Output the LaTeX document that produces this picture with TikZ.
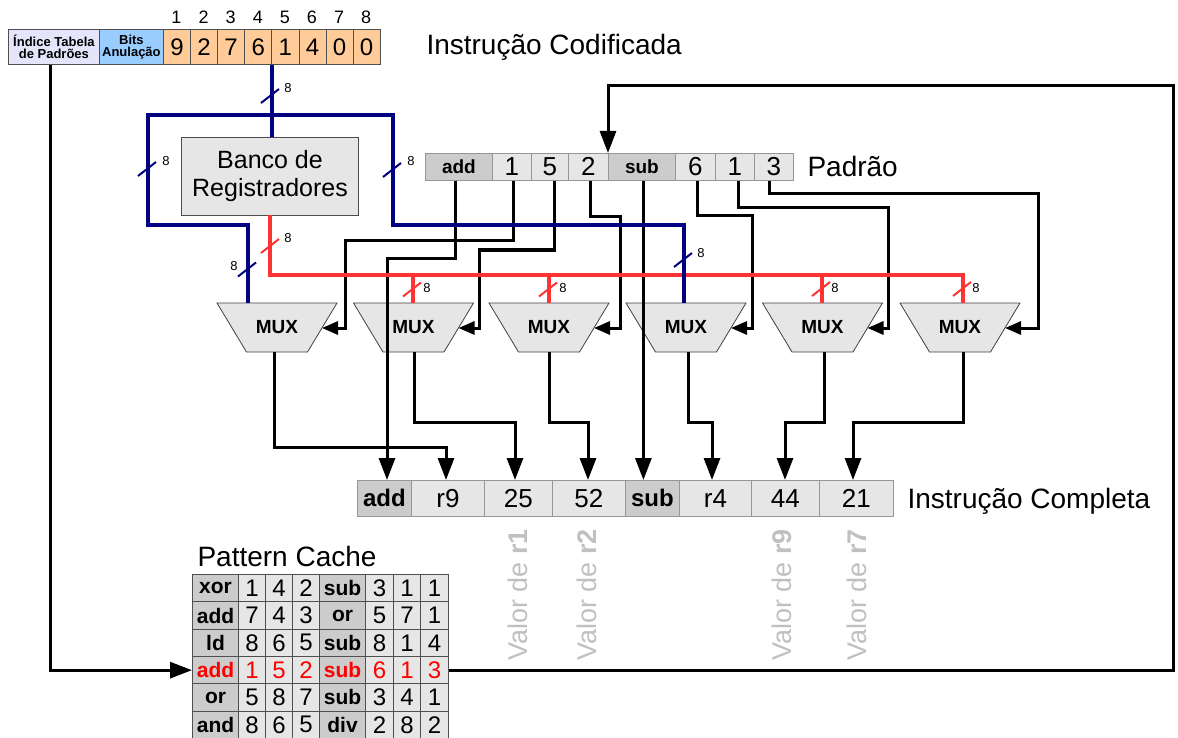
\documentclass[tikz,border=0pt]{standalone}
\usepackage{fontspec}
\setmainfont{Liberation Sans}
\usetikzlibrary{arrows.meta,calc}
\definecolor{navy}{RGB}{0,0,128}
\definecolor{busred}{RGB}{255,51,51}
\definecolor{cellL}{RGB}{230,230,230}
\definecolor{cellD}{RGB}{204,204,204}
\definecolor{cellB}{RGB}{150,150,150}
\definecolor{tabB}{RGB}{80,80,80}
\definecolor{lav}{RGB}{228,228,250}
\definecolor{bitsb}{RGB}{153,204,255}
\definecolor{orng}{RGB}{255,204,153}
\definecolor{valg}{RGB}{192,192,192}
\newcommand{\fsz}[1]{\fontsize{#1}{#1}\selectfont}
\newcommand{\bwmark}[5]{\draw[line width=2pt,#1] (#2-9,#3+7) -- (#2+9,#3-7); \node[font=\fsz{13}] (#4) at (#5) {8};}
\begin{document}
\begin{tikzpicture}[x=1pt,y=-1pt,
  hcell/.style={draw=tabB, line width=0.8pt, inner sep=0pt, anchor=north west, minimum height=35pt},
  cell/.style={draw=cellB, line width=0.8pt, inner sep=0pt, anchor=north west},
  tcell/.style={draw=tabB, line width=1pt, inner sep=0pt, anchor=north west},
  muxshape/.style={draw=black!75, fill=cellL, line width=0.8pt},
  wire/.style={line width=3pt, black},
  sidearr/.style={wire, -{Triangle[length=16pt,width=13pt]}},
  downarr/.style={wire, -{Triangle[length=22pt,width=16pt]}},
  bluebus/.style={line width=4.5pt, navy},
  redbus/.style={line width=4.5pt, busred},
  biglab/.style={anchor=base west, font=\fsz{28}},
  valor/.style={rotate=90, font=\fsz{27}, text=valg}
]
\useasboundingbox (0,0) rectangle (1178,738);

% ---------- header (Instrucao Codificada)
\node[hcell, fill=lav, minimum width=91pt, align=center, font=\fsz{13}\bfseries] (hidx) at (8,29) {Índice Tabela\\[-1pt]de Padrões};
\node[hcell, fill=bitsb, minimum width=64pt, align=center, font=\fsz{13}\bfseries] (hbits) at (99,29) {Bits\\[-1pt]Anulação};
\foreach \d [count=\i] in {9,2,7,6,1,4,0,0} {
  \node[hcell, fill=orng, minimum width=27.1pt, font=\fsz{24}] (h\i) at ({163+27.1*(\i-1)},29) {\d};
  \node[font=\fsz{18}] (hn\i) at ({176.5+27.1*(\i-1)},17) {\i};
}
\node[biglab] (tcod) at (423,55) {Instrução Codificada};

% ---------- register bank
\node[draw=black!70, fill=cellL, line width=0.8pt, minimum width=177pt, minimum height=78pt, align=center, font=\fontsize{25}{28}\selectfont] (bank) at (270,176) {Banco de\\Registradores};

% ---------- Padrao row
\foreach \t/\x/\w/\f/\s [count=\i] in {add/425/67/cellD/b,1/492/39/cellL/n,5/531/37/cellL/n,2/568/40/cellL/n,sub/608/67/cellD/b,6/675/40/cellL/n,1/715/39/cellL/n,3/754/39/cellL/n} {
  \if\s b\def\ff{\bfseries\fsz{19}}\else\def\ff{\fsz{26}}\fi
  \node[cell, fill=\f, minimum width=\w pt, minimum height=27pt, font=\ff] (p\i) at (\x,153) {\t};
}
\node[biglab] (tpad) at (804,177) {Padrão};

% ---------- Instrucao Completa row
\foreach \t/\x/\w/\f/\s [count=\i] in {add/357/54/cellD/b,r9/411/73/cellL/n,25/484/68/cellL/n,52/552/73/cellL/n,sub/625/54/cellD/b,r4/679/72/cellL/n,44/751/68/cellL/n,21/819/74/cellL/n} {
  \if\s b\def\ff{\bfseries\fsz{24}}\else\def\ff{\fsz{26}}\fi
  \node[cell, fill=\f, minimum width=\w pt, minimum height=36pt, font=\ff] (b\i) at (\x,480) {\t};
}
\node[biglab] (tcomp) at (904,508) {Instrução Completa};

% ---------- Valor labels
\node[valor] (v1) at (518,595) {Valor de \textbf{r1}};
\node[valor] (v2) at (587,595) {Valor de \textbf{r2}};
\node[valor] (v3) at (782,595) {Valor de \textbf{r9}};
\node[valor] (v4) at (857,595) {Valor de \textbf{r7}};

% ---------- Pattern cache
\node[biglab] (tpc) at (194,566) {Pattern Cache};
\foreach \row [count=\r] in {{xor,1,4,2,sub,3,1,1},{add,7,4,3,or,5,7,1},{ld,8,6,5,sub,8,1,4},{add,1,5,2,sub,6,1,3},{or,5,8,7,sub,3,4,1},{and,8,6,5,div,2,8,2}} {
  \foreach \v [count=\c] in \row {
    \pgfmathsetmacro{\cx}{{192,238,265,292,319,365,393,420}[\c-1]}
    \pgfmathsetmacro{\cw}{{46,27,27,27,46,28,27,28}[\c-1]}
    \pgfmathsetmacro{\ry}{574+27.33*(\r-1)}
    \ifnum\c=1 \def\cf{cellD}\def\cfont{\bfseries\fsz{21}}\else
      \ifnum\c=5 \def\cf{cellD}\def\cfont{\bfseries\fsz{21}}\else
        \def\cf{cellL}\def\cfont{\fsz{24}}\fi\fi
    \ifnum\r=4 \def\ccol{red}\else\def\ccol{black}\fi
    \node[tcell, fill=\cf, text=\ccol, font=\cfont, minimum width=\cw pt, minimum height=27.33pt] (pc\r-\c) at (\cx,\ry) {\v};
  }
}

% ---------- MUXes
\foreach \i/\x in {1/277,2/413.5,3/549,4/686,5/822.5,6/960} {
  \path[muxshape] (\x-60,303) -- (\x+60,303) -- (\x+30.5,352) -- (\x-30.5,352) -- cycle;
  \node[font=\bfseries\fsz{19}] (mux\i) at (\x,327.5) {MUX};
  \coordinate (mr\i) at (\x+45,328);
}
\coordinate (mt1) at (248,303);
\coordinate (mt2) at (413,303);
\coordinate (mt3) at (549,303);
\coordinate (mt4) at (684,303);
\coordinate (mt5) at (822,303);
\coordinate (mt6) at (963,303);
\coordinate (mb1) at (274,352);
\coordinate (mb2) at (414,352);
\coordinate (mb3) at (549,352);
\coordinate (mb4) at (688,352);
\coordinate (mb5) at (824,352);
\coordinate (mb6) at (963,352);

% ---------- black wires from Padrao
\draw[sidearr] ([xshift=1.5]p2.south) |- (345,241) |- (mr1);
\draw[downarr] ([xshift=-3.5]p1.south) |- (387,258) -- (387,258 |- b1.north);
\draw[sidearr] ([xshift=4.5]p3.south) |- (479,250) |- (mr2);
\draw[sidearr] ([xshift=2]p4.south) |- (620,217) |- (mr3);
\draw[downarr] ([xshift=1.5]p5.south) -- ([xshift=1.5]p5.south |- b5.north);
\draw[sidearr] ([xshift=2]p6.south) |- (752,216) |- (mr4);
\draw[sidearr] ([xshift=3.5]p7.south) |- (888,208) |- (mr5);
\draw[sidearr] ([xshift=-4.5]p8.south) |- (1038,194) |- (mr6);

% ---------- MUX outputs
\draw[downarr] (mb1) |- (446,447) -- (446,447 |- b2.north);
\draw[downarr] (mb2) |- (515,422) -- (515,422 |- b3.north);
\draw[downarr] (mb3) |- (588,422) -- (588,422 |- b4.north);
\draw[downarr] (mb4) |- (712,422) -- (712,422 |- b6.north);
\draw[downarr] (mb5) |- (785,422) -- (785,422 |- b7.north);
\draw[downarr] (mb6) |- (853,422) -- (853,422 |- b8.north);

% ---------- feedback and index
\draw[downarr] (pc4-8.east) -| (1173,86) -| (p5.north west);
\draw[downarr] ([xshift=-3.5]hidx.south) |- (pc4-1.west);

% ---------- red bus
\draw[redbus] (bank.south) |- (963,275) -- (mt6);
\draw[redbus] (mt2) -- ++(0,-28);
\draw[redbus] (mt3) -- ++(0,-28);
\draw[redbus] (mt5) -- ++(0,-28);

% ---------- blue bus
\coordinate (bj) at (271.4,115);
\draw[bluebus] (h4.south east) -- (h4.south east |- bank.north);
\draw[bluebus] (bj) -| (148,225) -| (mt1);
\draw[bluebus] (bj) -| (393,225) -| (mt4);

% ---------- width marks
\bwmark{navy}{270}{96}{s1}{288,88}
\bwmark{navy}{147}{169}{s2}{166,161}
\bwmark{navy}{392}{170}{s3}{411,161}
\bwmark{busred}{270}{246}{s4}{288,238}
\bwmark{navy}{247}{269.5}{s5}{234,266}
\bwmark{busred}{412}{289.5}{s6}{427,288}
\bwmark{busred}{548}{289.5}{s7}{563,288}
\bwmark{busred}{821}{289}{s8}{835,288}
\bwmark{busred}{962}{289}{s9}{976,288}
\bwmark{navy}{683}{260}{s10}{701,253}
\end{tikzpicture}
\end{document}
